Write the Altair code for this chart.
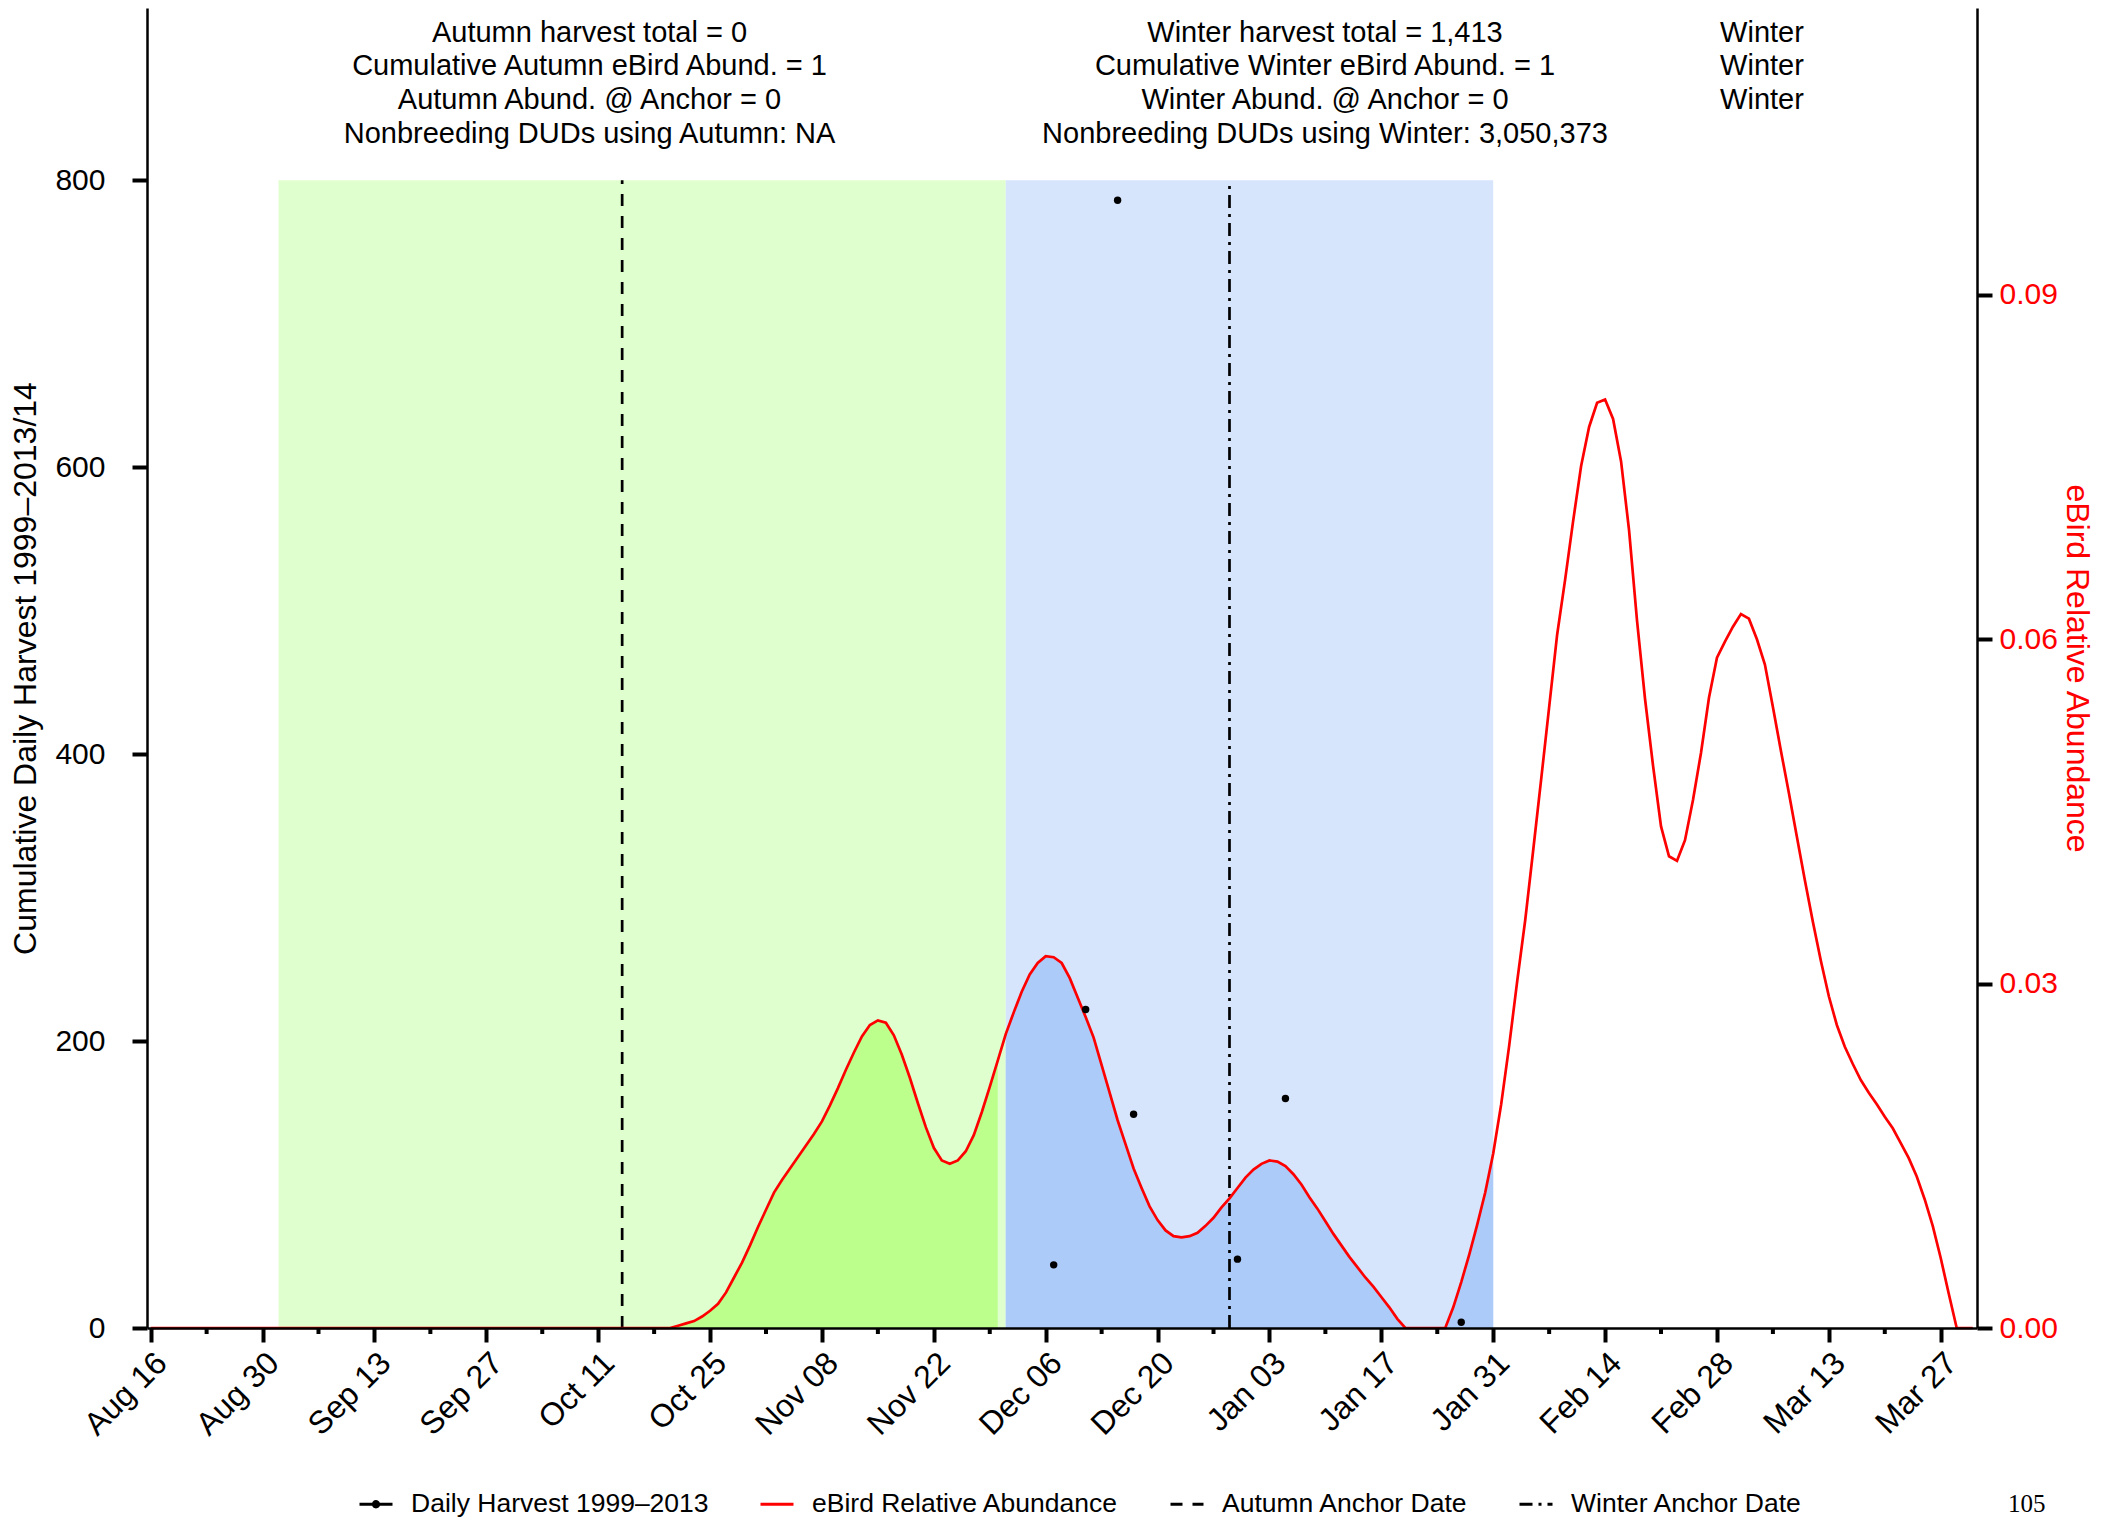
import json
import altair as alt
import pandas as pd

# ---------------- data (day 0 = Aug 16, 2013) ----------------
tick_labels = ["Aug 16", "Aug 30", "Sep 13", "Sep 27", "Oct 11", "Oct 25", "Nov 08", "Nov 22",
               "Dec 06", "Dec 20", "Jan 03", "Jan 17", "Jan 31", "Feb 14", "Feb 28", "Mar 13", "Mar 27"]
tick_step = 14
minor_step = 7

abund_day = [0, 63, 65, 66, 67, 68, 69, 70, 71, 72, 73, 74, 75, 76, 77, 78, 79, 80, 81, 82, 83, 84,
             85, 86, 87, 88, 89, 90, 91, 92, 93, 94, 95, 96, 97, 98, 99, 100, 101, 102, 103, 104,
             105, 106, 107, 108, 109, 110, 111, 112, 113, 114, 115, 116, 117, 118, 119, 120, 121,
             122, 123, 124, 125, 126, 127, 128, 129, 130, 131, 132, 133, 134, 135, 136, 137, 138,
             139, 140, 141, 142, 143, 144, 145, 146, 147, 148, 149, 150, 151, 152, 153, 154, 155,
             156, 157, 158, 159, 160, 161, 162, 163, 164, 165, 166, 167, 168, 169, 170, 171, 172,
             173, 174, 175, 176, 177, 178, 179, 180, 181, 182, 183, 184, 185, 186, 187, 188, 189,
             190, 191, 192, 193, 194, 195, 196, 197, 198, 199, 200, 201, 202, 203, 204, 205, 206,
             207, 208, 209, 210, 211, 212, 213, 214, 215, 216, 217, 218, 219, 220, 221, 222, 223,
             224, 225, 226, 228]
abund_value = [0, 0, 0, 0.0002, 0.0004, 0.0006, 0.0010, 0.0015, 0.0021, 0.0031, 0.0044, 0.0057,
               0.0072, 0.0088, 0.0103, 0.0118, 0.0129, 0.0139, 0.0149, 0.0159, 0.0169, 0.0180,
               0.0194, 0.0209, 0.0225, 0.0240, 0.0254, 0.0264, 0.0268, 0.0266, 0.0255, 0.0238,
               0.0218, 0.0196, 0.0175, 0.0157, 0.0146, 0.0143, 0.0146, 0.0154, 0.0168, 0.0188,
               0.0210, 0.0233, 0.0256, 0.0275, 0.0293, 0.0308, 0.0318, 0.0324, 0.0323, 0.0318,
               0.0305, 0.0288, 0.0271, 0.0253, 0.0229, 0.0205, 0.0181, 0.0160, 0.0139, 0.0122,
               0.0106, 0.0094, 0.0085, 0.0080, 0.0079, 0.0080, 0.0083, 0.0089, 0.0096, 0.0105,
               0.0113, 0.0122, 0.0131, 0.0138, 0.0143, 0.0146, 0.0145, 0.0141, 0.0134, 0.0125,
               0.0114, 0.0104, 0.0093, 0.0082, 0.0072, 0.0062, 0.0053, 0.0044, 0.0036, 0.0027,
               0.0018, 0.0008, 0, 0, 0, 0, 0, 0, 0.0018, 0.0040, 0.0064, 0.0090, 0.0118, 0.0152,
               0.0195, 0.0246, 0.0302, 0.0355, 0.0416, 0.0478, 0.0541, 0.0604, 0.0652, 0.0703,
               0.0751, 0.0785, 0.0806, 0.0809, 0.0792, 0.0755, 0.0695, 0.0616, 0.0548, 0.0490,
               0.0437, 0.0411, 0.0407, 0.0425, 0.0460, 0.0501, 0.0549, 0.0584, 0.0598, 0.0611,
               0.0622, 0.0618, 0.0600, 0.0578, 0.0541, 0.0503, 0.0466, 0.0428, 0.0390, 0.0354,
               0.0320, 0.0289, 0.0264, 0.0245, 0.0230, 0.0216, 0.0205, 0.0195, 0.0184, 0.0174,
               0.0161, 0.0148, 0.0132, 0.0112, 0.0089, 0.0061, 0.0030, 0, 0]

harvest_day = [113, 117, 121, 123, 136, 142, 164]
harvest_count = [44, 222, 786, 149, 48, 160, 4]

season_names = ["Autumn", "Winter"]
season_start = [16, 107]     # Sep 01, Dec 01
season_end = [107, 168]      # Dec 01, Jan 31
anchor_day = [59, 135]       # Oct 14, Dec 29
band_top = 800

autumn_lines = ["Autumn harvest total =  0", "Cumulative Autumn eBird Abund. =  1",
                "Autumn Abund. @ Anchor =  0", "Nonbreeding DUDs using Autumn: NA"]
winter_lines = ["Winter harvest total =  1,413", "Cumulative Winter eBird Abund. =  1",
                "Winter Abund. @ Anchor =  0", "Nonbreeding DUDs using Winter: 3,050,373"]
extra_lines = ["Winter", "Winter", "Winter"]

legend_labels = ["Daily Harvest 1999\u20132013", "eBird Relative Abundance",
                 "Autumn Anchor Date", "Winter Anchor Date"]
page_number = "105"

# ---------------- styling ----------------
FONT = "Liberation Sans"
LIGHT_GREEN, DARK_GREEN = "#E0FFCE", "#BDFF8C"
LIGHT_BLUE, DARK_BLUE = "#D6E5FC", "#ADCBF8"
DASH_AUTUMN = [12, 10]
DASH_WINTER = [13, 6, 3, 6]

abund_df = pd.DataFrame({"day": abund_day, "abund": abund_value})
harvest_df = pd.DataFrame({"day": harvest_day, "harvest": harvest_count})
season_df = pd.DataFrame({"season": season_names, "start": season_start, "end": season_end})
anchor_df = pd.DataFrame({"season": season_names, "day": anchor_day})

last_tick = tick_step * (len(tick_labels) - 1)
major_values = list(range(0, last_tick + 1, tick_step))
minor_df = pd.DataFrame({"day": list(range(minor_step, last_tick, tick_step))})

X_SCALE = alt.Scale(domain=[-0.46, 228.54], nice=False, zero=False)
YL_SCALE = alt.Scale(domain=[0, 920], nice=False)
YR_SCALE = alt.Scale(domain=[0, 0.115], nice=False)

label_expr = f"{json.dumps(tick_labels)}[round(datum.value / {tick_step})]"

x_axis = alt.Axis(
    values=major_values, labelExpr=label_expr, title=None, grid=False,
    tickSize=14, tickWidth=4, tickColor="black", domainColor="black", domainWidth=2.5,
    labelAngle=315, labelAlign="right", labelBaseline="top", labelFontSize=32,
    labelPadding=5, labelColor="black", labelFont=FONT, labelOverlap=False,
    labelFlush=False, zindex=1,
)
left_axis = alt.Axis(
    orient="left", values=[0, 200, 400, 600, 800], format="d", grid=False,
    tickSize=15, tickWidth=4, tickColor="black", domainColor="black", domainWidth=2.5,
    labelFontSize=30, labelPadding=27, labelColor="black", labelFont=FONT,
    title="Cumulative Daily Harvest 1999\u20132013/14", titleFontSize=32,
    titleFontWeight="normal", titleFont=FONT, titleColor="black", titlePadding=12, zindex=1,
)
right_axis = alt.Axis(
    orient="right", values=[0, 0.03, 0.06, 0.09], format=".2f", grid=False,
    tickSize=15, tickWidth=4, tickColor="black", domainColor="black", domainWidth=2.5,
    labelFontSize=30, labelPadding=7, labelColor="red", labelFont=FONT,
    title="eBird Relative Abundance", titleFontSize=32, titleFontWeight="normal",
    titleFont=FONT, titleColor="red", titlePadding=2, zindex=1,
)

bands = alt.Chart(season_df).mark_rect().encode(
    x=alt.X("start:Q", scale=X_SCALE, axis=None),
    x2="end:Q",
    y=alt.YDatum(0, scale=YL_SCALE, axis=None),
    y2=alt.Y2Datum(band_top),
    fill=alt.Fill("season:N", scale=alt.Scale(domain=season_names, range=[LIGHT_GREEN, LIGHT_BLUE]),
                  legend=None),
)

autumn_fill = alt.Chart(abund_df).transform_filter(
    f"datum.day >= {season_start[0]} && datum.day < {season_end[0]}"
).mark_area(color=DARK_GREEN, opacity=1).encode(
    x=alt.X("day:Q", scale=X_SCALE, axis=None),
    y=alt.Y("abund:Q", scale=YR_SCALE, axis=None),
)
winter_fill = alt.Chart(abund_df).transform_filter(
    f"datum.day >= {season_start[1]} && datum.day <= {season_end[1]}"
).mark_area(color=DARK_BLUE, opacity=1).encode(
    x=alt.X("day:Q", scale=X_SCALE, axis=None),
    y=alt.Y("abund:Q", scale=YR_SCALE, axis=None),
)

def anchor_rule(season, dash):
    return alt.Chart(anchor_df).transform_filter(f"datum.season === '{season}'").mark_rule(
        color="black", strokeWidth=2.7, strokeDash=dash
    ).encode(
        x=alt.X("day:Q", scale=X_SCALE, axis=None),
        y=alt.YDatum(0, scale=YL_SCALE, axis=None),
        y2=alt.Y2Datum(band_top),
    )

autumn_anchor = anchor_rule("Autumn", DASH_AUTUMN)
winter_anchor = anchor_rule("Winter", DASH_WINTER)

abund_line = alt.Chart(abund_df).mark_line(color="red", strokeWidth=2.7).encode(
    x=alt.X("day:Q", scale=X_SCALE, axis=x_axis),
    y=alt.Y("abund:Q", scale=YR_SCALE, axis=right_axis),
)

harvest_pts = alt.Chart(harvest_df).mark_circle(color="black", size=55, opacity=1).encode(
    x=alt.X("day:Q", scale=X_SCALE, axis=None),
    y=alt.Y("harvest:Q", scale=YL_SCALE, axis=left_axis),
)

# minor (weekly) ticks below the date axis
minor_ticks = alt.Chart(minor_df).mark_tick(
    orient="vertical", color="black", size=6, thickness=4, yOffset=3, opacity=1
).encode(
    x=alt.X("day:Q", scale=X_SCALE, axis=None),
    y=alt.YDatum(0, scale=YL_SCALE, axis=None),
)

def text_block(lines, xpix):
    return alt.Chart(pd.DataFrame({"t": ["\n".join(lines)]})).mark_text(
        font=FONT, fontSize=29, color="black", align="center", baseline="alphabetic",
        lineBreak="\n", lineHeight=33.7,
    ).encode(text="t:N", x=alt.value(xpix), y=alt.value(33.7))

txt_autumn = text_block(autumn_lines, 442.5)
txt_winter = text_block(winter_lines, 1178)
txt_extra = text_block(extra_lines, 1615)

leg = alt.Legend(
    title=None, orient="none", legendX=211, legendY=1478, direction="horizontal",
    symbolSize=1089, symbolStrokeWidth=3, symbolOpacity=1, labelFontSize=26.5,
    labelFont=FONT, labelColor="black", labelOffset=17, columnPadding=45, labelLimit=1000,
)
dot_line = "M-1,0L1,0M-0.16,0A0.16,0.16,0,1,0,0.16,0A0.16,0.16,0,1,0,-0.16,0Z"
plain_line = "M-1,0L1,0"
legend_layer = alt.Chart(pd.DataFrame({"series": legend_labels})).mark_point(
    filled=False, opacity=0
).encode(
    x=alt.value(0), y=alt.value(0),
    color=alt.Color("series:N", scale=alt.Scale(domain=legend_labels,
                    range=["black", "red", "black", "black"]), legend=leg),
    shape=alt.Shape("series:N", scale=alt.Scale(domain=legend_labels,
                    range=[dot_line, plain_line, plain_line, plain_line]), legend=leg),
    strokeDash=alt.StrokeDash("series:N", scale=alt.Scale(domain=legend_labels,
                              range=[[1, 0], [1, 0], DASH_AUTUMN, DASH_WINTER]), legend=leg),
)

page_no = alt.Chart(pd.DataFrame({"t": [page_number]})).mark_text(
    font="Liberation Serif", fontSize=25, color="black", align="left", baseline="top"
).encode(text="t:N", x=alt.value(1861), y=alt.value(1484))

chart = alt.layer(
    bands, autumn_fill, winter_fill, autumn_anchor, winter_anchor, abund_line, harvest_pts,
    minor_ticks, txt_autumn, txt_winter, txt_extra, legend_layer, page_no,
).resolve_scale(y="independent").resolve_axis(x="independent").properties(
    width=1830, height=1320,
    autosize=alt.AutoSizeParams(type="none"),
    padding={"left": 139, "top": 0, "right": 120, "bottom": 190},
).configure(font=FONT).configure_view(strokeWidth=0)

chart.save("out.html", embed_options={"renderer": "svg", "actions": False})
